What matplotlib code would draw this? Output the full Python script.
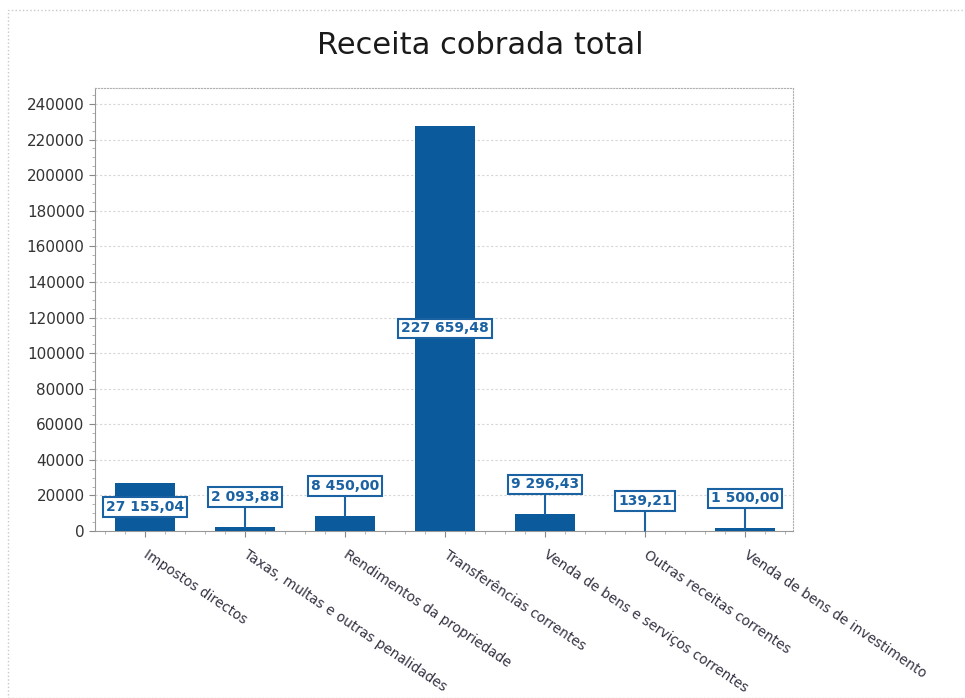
import matplotlib.pyplot as plt
from matplotlib.patches import Rectangle
from matplotlib.ticker import MultipleLocator

categories = [
    "Impostos directos",
    "Taxas, multas e outras penalidades",
    "Rendimentos da propriedade",
    "Transferências correntes",
    "Venda de bens e serviços correntes",
    "Outras receitas correntes",
    "Venda de bens de investimento",
]
values = [27155.04, 2093.88, 8450.00, 227659.48, 9296.43, 139.21, 1500.00]

bar_color = "#0b5a9c"
label_color = "#1b62a3"


def fmt(v):
    s = f"{v:,.2f}"
    return s.replace(",", " ").replace(".", ",")


fig = plt.figure(figsize=(9.65, 6.98), dpi=100)
fig.patches.append(Rectangle((8 / 965, 0), 1, 1 - 10 / 698, transform=fig.transFigure,
                             fill=False, edgecolor="#c8c8c8", linewidth=1, linestyle=":"))
ax = fig.add_axes([95 / 965, 1 - 531 / 698, (793 - 95) / 965, (531 - 88) / 698])

x = list(range(len(categories)))
ax.bar(x, values, width=0.6, color=bar_color, zorder=3)

ax.set_xlim(-0.5, 6.48)
ax.set_ylim(0, 249000)
ax.yaxis.set_major_locator(MultipleLocator(20000))
ax.yaxis.set_minor_locator(MultipleLocator(5000))
ax.set_xticks(x)
ax.xaxis.set_minor_locator(MultipleLocator(0.2))
ax.set_xticklabels(categories, rotation=-34, ha="left", va="center",
                   rotation_mode="anchor", fontsize=9.8, color="#333344")
ax.tick_params(axis="y", labelsize=11, labelcolor="#333333", color="#888888", length=4)
ax.tick_params(axis="y", which="minor", color="#aaaaaa", length=2)
ax.tick_params(axis="x", color="#888888", length=4, pad=12)
ax.tick_params(axis="x", which="minor", color="#aaaaaa", length=2)

ax.grid(axis="y", linestyle=(0, (2, 2)), color="#d6d6d6", linewidth=0.8, zorder=0)
for side in ("top", "right"):
    ax.spines[side].set_linestyle(":")
    ax.spines[side].set_color("#b0b0b0")
for side in ("left", "bottom"):
    ax.spines[side].set_color("#999999")

box = dict(boxstyle="square,pad=0.2", facecolor="white", edgecolor=label_color, linewidth=1.5)
for i, v in zip(x, values):
    if v > 20000:
        ax.annotate(fmt(v), xy=(i, v / 2), ha="center", va="center", fontsize=10,
                    fontweight="bold", color=label_color, bbox=box, zorder=5)
    else:
        ax.annotate(fmt(v), xy=(i, v), xytext=(0, 30), textcoords="offset pixels",
                    ha="center", va="center", fontsize=10, fontweight="bold",
                    color=label_color, bbox=box,
                    arrowprops=dict(arrowstyle="-", color=label_color, lw=1.5,
                                    shrinkA=0, shrinkB=0), zorder=5)

fig.text(480 / 965, 1 - 45 / 698, "Receita cobrada total", ha="center", va="center",
         fontsize=22, color="#1a1a1a")

fig.savefig("out.png", dpi=100)
